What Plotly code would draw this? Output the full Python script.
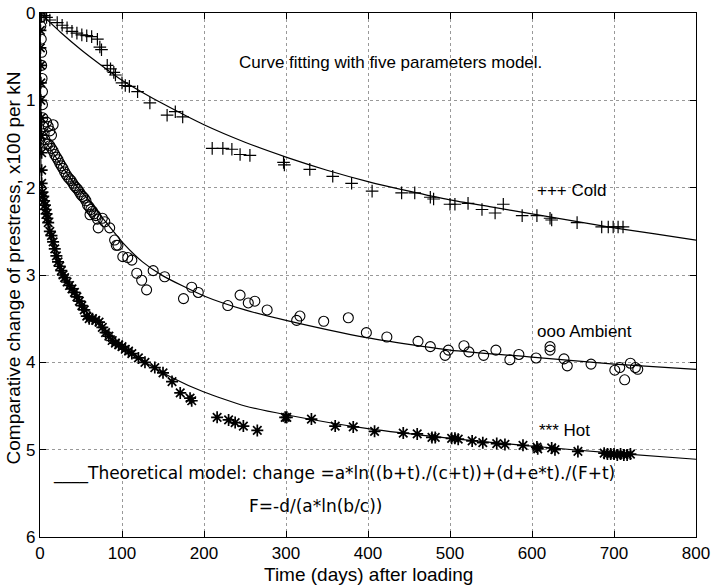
import plotly.graph_objects as go

# ---------------- data ----------------
# Fitted model curves
cold_line_t = [0, 25, 50, 75, 100, 125, 150, 200, 250, 300, 350, 400, 450, 500, 550, 600, 650, 700, 750, 800]
cold_line_y = [0, 0.22, 0.42, 0.60, 0.77, 0.91, 1.04, 1.28, 1.48, 1.65, 1.80, 1.93, 2.04, 2.14, 2.22, 2.30, 2.38, 2.46, 2.53, 2.60]

amb_line_t = [0, 0.3, 0.7, 1.5, 3, 6, 10, 20, 30, 40, 50, 60, 70, 80, 100, 125, 150, 200, 250, 300, 400, 500, 600, 700, 800]
amb_line_y = [0, 0.5, 0.9, 1.25, 1.42, 1.48, 1.52, 1.66, 1.80, 1.93, 2.04, 2.15, 2.27, 2.39, 2.62, 2.85, 3.01, 3.24, 3.40, 3.52, 3.72, 3.86, 3.94, 4.02, 4.08]

hot_line_t = [0, 0.3, 0.7, 1.5, 3, 6, 12, 20, 28, 40, 50, 60, 70, 90, 110, 130, 160, 200, 250, 300, 400, 500, 600, 700, 800]
hot_line_y = [0, 0.9, 1.5, 1.85, 2.05, 2.25, 2.52, 2.80, 3.0, 3.18, 3.30, 3.42, 3.53, 3.72, 3.88, 4.01, 4.17, 4.34, 4.50, 4.60, 4.76, 4.87, 4.96, 5.04, 5.11]

# Measured points: Cold (+)
cold_t = [1, 2, 5, 8, 12, 21, 27, 33, 39, 45, 51, 57, 63, 70, 73, 75, 82, 86, 90, 92, 100, 104, 109, 119, 134,
          155, 165, 174, 210, 223, 234, 244, 256, 297, 298, 329, 357, 380, 405, 441, 457, 476, 480, 500, 506,
          522, 539, 555, 565, 588, 606, 622, 624, 655, 685, 693, 699, 705, 711]
cold_y = [0.01, 0.03, 0.03, 0.05, 0.08, 0.11, 0.14, 0.17, 0.21, 0.23, 0.25, 0.26, 0.27, 0.30, 0.39, 0.42, 0.60, 0.64, 0.68, 0.71, 0.80, 0.83, 0.84, 0.90, 1.03,
          1.17, 1.13, 1.19, 1.55, 1.55, 1.56, 1.62, 1.63, 1.71, 1.74, 1.79, 1.87, 1.95, 2.04, 2.06, 2.06, 2.11, 2.13, 2.19, 2.19,
          2.18, 2.25, 2.29, 2.19, 2.32, 2.32, 2.35, 2.37, 2.40, 2.45, 2.45, 2.45, 2.45, 2.45]

# Measured points: Ambient (o)
amb_t = [1, 1, 1.5, 2, 2, 2.5, 3, 3, 3.5, 4, 5, 6, 8, 10, 12, 14, 16,
         8, 10, 12, 14, 16, 18, 20, 22, 24, 26, 28, 30, 32, 34, 36, 38, 40, 42, 44, 46, 48, 50, 52, 54, 56, 58, 60, 62, 64, 66, 68, 70,
         61, 71, 76, 79, 85, 91, 93, 95, 101, 107, 112, 118, 124, 130, 138, 152, 175, 185, 193, 229, 244, 254, 262, 277,
         313, 317, 346, 376, 398, 423, 461, 476, 494, 498, 517, 523, 541, 556, 573, 584, 605, 622, 622, 639, 643, 672,
         701, 707, 713, 720, 726, 729]
amb_y = [0.05, 0.15, 0.3, 0.45, 0.6, 0.75, 0.9, 1.05, 1.2, 1.3, 1.38, 1.45, 1.25, 1.3, 1.35, 1.4, 1.28,
         1.5, 1.5, 1.52, 1.55, 1.58, 1.62, 1.65, 1.68, 1.72, 1.75, 1.78, 1.82, 1.85, 1.88, 1.9, 1.92, 1.95, 1.98, 2.0, 2.02, 2.05, 2.08, 2.1, 2.12, 2.15, 2.2, 2.22, 2.25, 2.27, 2.3, 2.32, 2.36,
         2.31, 2.46, 2.35, 2.39, 2.46, 2.60, 2.66, 2.66, 2.79, 2.80, 2.83, 2.98, 3.06, 3.17, 2.95, 3.02, 3.27, 3.14, 3.20, 3.35, 3.23, 3.32, 3.30, 3.40,
         3.52, 3.47, 3.53, 3.49, 3.66, 3.71, 3.76, 3.82, 3.92, 3.86, 3.81, 3.88, 3.92, 3.86, 3.97, 3.91, 3.95, 3.82, 3.86, 3.96, 4.04, 4.02,
         4.09, 4.06, 4.20, 4.01, 4.06, 4.08]

# Measured points: Hot (*)
hot_t = [0.5, 0.5, 1, 1, 1, 1.5, 1.5, 2, 2, 2, 3, 4, 5, 6, 7, 8, 9, 10, 12, 14, 16, 18, 20, 22, 24, 26, 28, 30,
         33, 36, 39, 42, 45, 48, 51, 54, 57, 60, 64, 68, 72, 76, 80, 84, 88, 92, 96, 100, 104, 108, 112, 120, 128, 140, 150,
         161, 171, 183, 185, 216, 230, 238, 248, 265, 299, 301, 331, 360, 382, 408, 443, 460, 478, 482, 502, 506, 510,
         527, 540, 557, 567, 589, 606, 607, 624, 628, 656, 688, 692, 696, 700, 704, 708, 712, 716, 720]
hot_y = [0.2, 0.4, 0.6, 0.8, 1.0, 1.2, 1.4, 1.6, 1.8, 1.95, 2.05, 2.1, 2.15, 2.2, 2.25, 2.3, 2.35, 2.4, 2.5, 2.55, 2.62, 2.7, 2.78, 2.85, 2.9, 2.95, 3.0, 3.03,
         3.08, 3.12, 3.16, 3.2, 3.25, 3.3, 3.35, 3.4, 3.47, 3.5, 3.5, 3.52, 3.54, 3.6, 3.66, 3.7, 3.75, 3.78, 3.8, 3.82, 3.85, 3.87, 3.9, 3.95, 4.0, 4.06, 4.12,
         4.22, 4.35, 4.41, 4.44, 4.63, 4.66, 4.69, 4.73, 4.78, 4.63, 4.63, 4.65, 4.73, 4.74, 4.79, 4.81, 4.82, 4.86, 4.86, 4.87, 4.87, 4.88,
         4.90, 4.92, 4.93, 4.94, 4.95, 4.97, 4.99, 4.98, 5.00, 5.02, 5.04, 5.05, 5.05, 5.05, 5.06, 5.05, 5.06, 5.06, 5.05]

x_ticks = [0, 100, 200, 300, 400, 500, 600, 700, 800]
y_ticks = [0, 1, 2, 3, 4, 5, 6]

FONT = "Liberation Sans, Arial, Helvetica, sans-serif"
FORMULA_FONT = "DejaVu Sans, Liberation Sans, sans-serif"

fig = go.Figure()

line_style = dict(color="black", width=1.2, shape="spline", smoothing=0.6)
for t, y in [(cold_line_t, cold_line_y), (amb_line_t, amb_line_y), (hot_line_t, hot_line_y)]:
    fig.add_trace(go.Scatter(x=t, y=y, mode="lines", line=line_style, showlegend=False, hoverinfo="skip"))

fig.add_trace(go.Scatter(x=cold_t, y=cold_y, mode="markers", showlegend=False,
                         marker=dict(symbol="cross-thin-open", size=9, color="black",
                                     line=dict(color="black", width=1.2))))
fig.add_trace(go.Scatter(x=amb_t, y=amb_y, mode="markers", showlegend=False,
                         marker=dict(symbol="circle-open", size=10, color="black",
                                     line=dict(color="black", width=1.1))))
fig.add_trace(go.Scatter(x=hot_t, y=hot_y, mode="markers", showlegend=False,
                         marker=dict(symbol="asterisk-open", size=10, color="black",
                                     line=dict(color="black", width=1.7))))

ann_font = dict(family=FONT, size=17, color="black")
formula_font = dict(family=FORMULA_FONT, size=17, color="black")
annotations = [
    dict(x=240, y=0.57, text="Curve fitting with five parameters model.", font=ann_font),
    dict(x=604, y=2.03, text="+++ Cold", font=ann_font),
    dict(x=604, y=3.65, text="ooo Ambient", font=ann_font),
    dict(x=606, y=4.78, text="*** Hot", font=ann_font),
    dict(x=14, y=5.27, text="____Theoretical model: change =a*ln((b+t)./(c+t))+(d+e*t)./(F+t)", font=formula_font),
    dict(x=252, y=5.64, text="F=-d/(a*ln(b/c))", font=formula_font),
]
for a in annotations:
    fig.add_annotation(xref="x", yref="y", showarrow=False, xanchor="left", yanchor="middle", **a)

# axis titles placed as paper annotations
title_font = dict(family=FONT, size=19, color="black")
fig.add_annotation(xref="paper", yref="paper", x=0.5, y=-0.072, xanchor="center", yanchor="middle",
                   showarrow=False, text="Time (days) after loading", font=title_font)
fig.add_annotation(xref="paper", yref="paper", x=-0.04, y=0.514, xanchor="center", yanchor="middle",
                   showarrow=False, textangle=-90, text="Comparative change of prestress, x100 per kN", font=title_font)

axis_common = dict(showline=True, linecolor="black", linewidth=1.2, mirror="allticks",
                   ticks="inside", ticklen=6, tickcolor="black", tickwidth=1,
                   showgrid=True, gridcolor="#999", griddash="dot", gridwidth=1,
                   zeroline=False, automargin=False,
                   tickfont=dict(family=FONT, size=17, color="black"))

fig.update_xaxes(range=[0, 800], tickvals=x_ticks, ticktext=[str(v) for v in x_ticks], **axis_common)
fig.update_yaxes(range=[6, 0], tickvals=y_ticks, ticktext=[str(v) for v in y_ticks], **axis_common)

fig.update_layout(width=717, height=585, margin=dict(l=40, r=21, t=13, b=48),
                  plot_bgcolor="white", paper_bgcolor="white")

fig.write_html("out.html", config={"displayModeBar": False},
               post_script="document.body.style.margin='0';")
